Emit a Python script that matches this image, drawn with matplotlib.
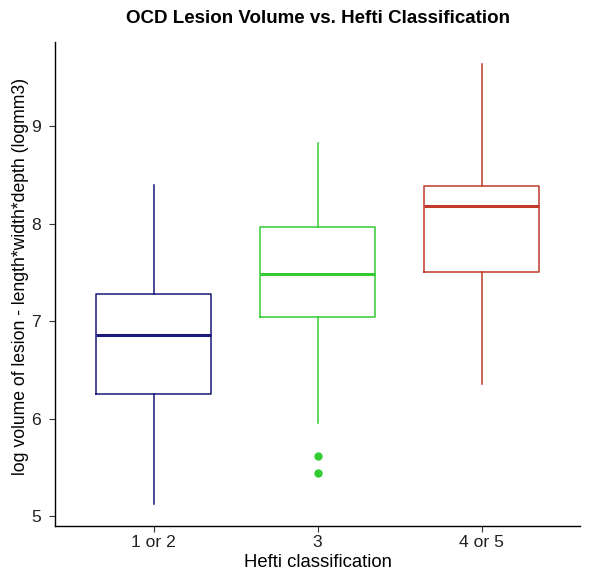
import matplotlib
matplotlib.use("Agg")
import matplotlib.pyplot as plt

plt.rcParams['font.family'] = ['Liberation Sans', 'DejaVu Sans']

# box stats
groups = ["1 or 2", "3", "4 or 5"]
whisk_lo = [5.13, 5.96, 6.36]
q1 = [6.25, 7.04, 7.50]
median = [6.86, 7.48, 8.18]
q3 = [7.28, 7.96, 8.38]
whisk_hi = [8.39, 8.82, 9.63]
outliers = [[], [5.62, 5.44], []]
colors = ["#1a1a7a", "#33cc33", "#c0392b"]

fig = plt.figure(figsize=(5.93, 5.82), dpi=100)
ax = fig.add_axes([0.093, 0.097, 0.885, 0.83])

stats = []
for i in range(len(groups)):
    stats.append({"whislo": whisk_lo[i], "q1": q1[i], "med": median[i],
                  "q3": q3[i], "whishi": whisk_hi[i], "fliers": outliers[i],
                  "label": groups[i]})

pos = [1, 2, 3]
for i, s in enumerate(stats):
    c = colors[i]
    ax.bxp([s], positions=[pos[i]], widths=0.7, showcaps=False,
           boxprops=dict(color=c, linewidth=1.1),
           whiskerprops=dict(color=c, linewidth=1.1),
           medianprops=dict(color=c, linewidth=2.2),
           flierprops=dict(marker='o', markerfacecolor=c, markeredgecolor=c,
                           markersize=5, linestyle='none'))

ax.set_xlim(0.4, 3.6)
ax.set_ylim(4.905, 9.855)
ax.set_xticks(pos)
ax.set_xticklabels(groups)
ax.set_yticks([5, 6, 7, 8, 9])
ax.tick_params(labelsize=12.6, length=4, pad=3, colors='#333333', labelcolor='#222222')
ax.tick_params(axis='y', pad=6)
for sp in ['top', 'right']:
    ax.spines[sp].set_visible(False)
for sp in ['left', 'bottom']:
    ax.spines[sp].set_linewidth(1.0)

ax.set_xlabel("Hefti classification", fontsize=13.3, labelpad=3)
ax.set_ylabel("log volume of lesion - length*width*depth (logmm3)", fontsize=12.7)
ax.yaxis.set_label_coords(-0.05, 0.515)
ax.set_title("OCD Lesion Volume vs. Hefti Classification", fontsize=13.5,
             fontweight='bold', pad=14)

fig.savefig("out.png", dpi=100)
